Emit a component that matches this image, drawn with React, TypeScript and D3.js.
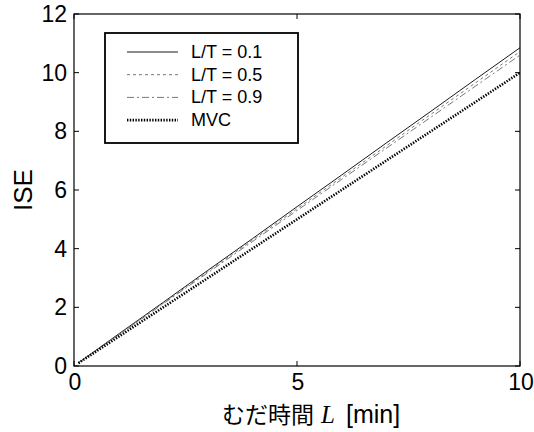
import React from 'react';
import * as d3 from 'd3';

const deadTimes = [0.1, 1, 2, 3, 4, 5, 6, 7, 8, 9, 10];
const iseLT01 = [0.11, 1.09, 2.17, 3.26, 4.34, 5.43, 6.51, 7.6, 8.68, 9.77, 10.85];
const iseLT05 = [0.11, 1.07, 2.14, 3.22, 4.29, 5.36, 6.43, 7.5, 8.58, 9.65, 10.72];
const iseLT09 = [0.11, 1.06, 2.12, 3.18, 4.24, 5.3, 6.36, 7.42, 8.48, 9.54, 10.6];
const iseMVC = [0.1, 1.0, 2.0, 3.0, 4.0, 5.0, 6.0, 7.0, 8.0, 9.0, 10.0];

const xTicks = [0, 5, 10];
const yTicks = [0, 2, 4, 6, 8, 10, 12];

const seriesLabels = ['L/T = 0.1', 'L/T = 0.5', 'L/T = 0.9', 'MVC'];

const W = 534;
const H = 432;
const margin = { left: 74, top: 14, right: 14, bottom: 66 };

const styles = [
  { stroke: '#000', width: 0.9, dash: '' },
  { stroke: '#777', width: 1, dash: '3,3' },
  { stroke: '#777', width: 1, dash: '7,3,2,3' },
  { stroke: '#000', width: 2.6, dash: '1.4,1.4' },
];

const font = "'Liberation Sans', Arial, sans-serif";

export default function App() {
  const x = d3.scaleLinear().domain([0, 10]).range([margin.left, W - margin.right]);
  const y = d3.scaleLinear().domain([0, 12]).range([H - margin.bottom, margin.top]);
  const line = d3
    .line<[number, number]>()
    .x(d => x(d[0]))
    .y(d => y(d[1]));
  const all = [iseLT01, iseLT05, iseLT09, iseMVC];
  const x0 = margin.left;
  const x1 = W - margin.right;
  const y0 = H - margin.bottom;
  const y1 = margin.top;

  return (
    <svg width={W} height={H} style={{ position: 'absolute', left: 0, top: 0 }}>
      <rect width={W} height={H} fill="#fff" />
      {all.map((vals, i) => (
        <path
          key={i}
          d={line(deadTimes.map((t, j) => [t, vals[j]]) as [number, number][]) || ''}
          fill="none"
          stroke={styles[i].stroke}
          strokeWidth={styles[i].width}
          strokeDasharray={styles[i].dash}
        />
      ))}
      <rect x={x0} y={y1} width={x1 - x0} height={y0 - y1} fill="none" stroke="#000" strokeWidth={1.2} />
      {yTicks.map(t => (
        <g key={'y' + t}>
          <line x1={x0} x2={x0 + 5} y1={y(t)} y2={y(t)} stroke="#000" />
          <line x1={x1} x2={x1 - 5} y1={y(t)} y2={y(t)} stroke="#000" />
          <text x={x0 - 7} y={y(t) + 8} textAnchor="end" fontSize={23} fontFamily={font}>
            {t}
          </text>
        </g>
      ))}
      {xTicks.map(t => (
        <g key={'x' + t}>
          <line x1={x(t)} x2={x(t)} y1={y0} y2={y0 - 5} stroke="#000" />
          <line x1={x(t)} x2={x(t)} y1={y1} y2={y1 + 5} stroke="#000" />
          <text x={x(t) + 1} y={y0 + 24} textAnchor="middle" fontSize={23} fontFamily={font}>
            {t}
          </text>
        </g>
      ))}
      <text
        transform={`translate(32, ${(y0 + y1) / 2}) rotate(-90)`}
        textAnchor="middle"
        fontSize={26}
        fontFamily={font}
      >
        ISE
      </text>
      <text x={222} y={423} fontSize={25} fontFamily={font}>
        <tspan fontFamily="'Noto Sans CJK JP', sans-serif" fontSize={23}>
          むだ時間
        </tspan>
        <tspan x={321} fontFamily="'Liberation Serif', serif" fontStyle="italic">
          L
        </tspan>
        <tspan x={346}>[min]</tspan>
      </text>
      <rect x={105} y={33} width={193} height={110} fill="#fff" stroke="#000" strokeWidth={1.8} />
      {seriesLabels.map((s, i) => {
        const ly = 52 + i * 22.7;
        return (
          <g key={s}>
            <line
              x1={127}
              x2={178}
              y1={ly}
              y2={ly}
              stroke={styles[i].stroke}
              strokeWidth={styles[i].width}
              strokeDasharray={styles[i].dash}
            />
            <text x={191} y={ly + 6} fontSize={18} fontFamily={font}>
              {s}
            </text>
          </g>
        );
      })}
    </svg>
  );
}
